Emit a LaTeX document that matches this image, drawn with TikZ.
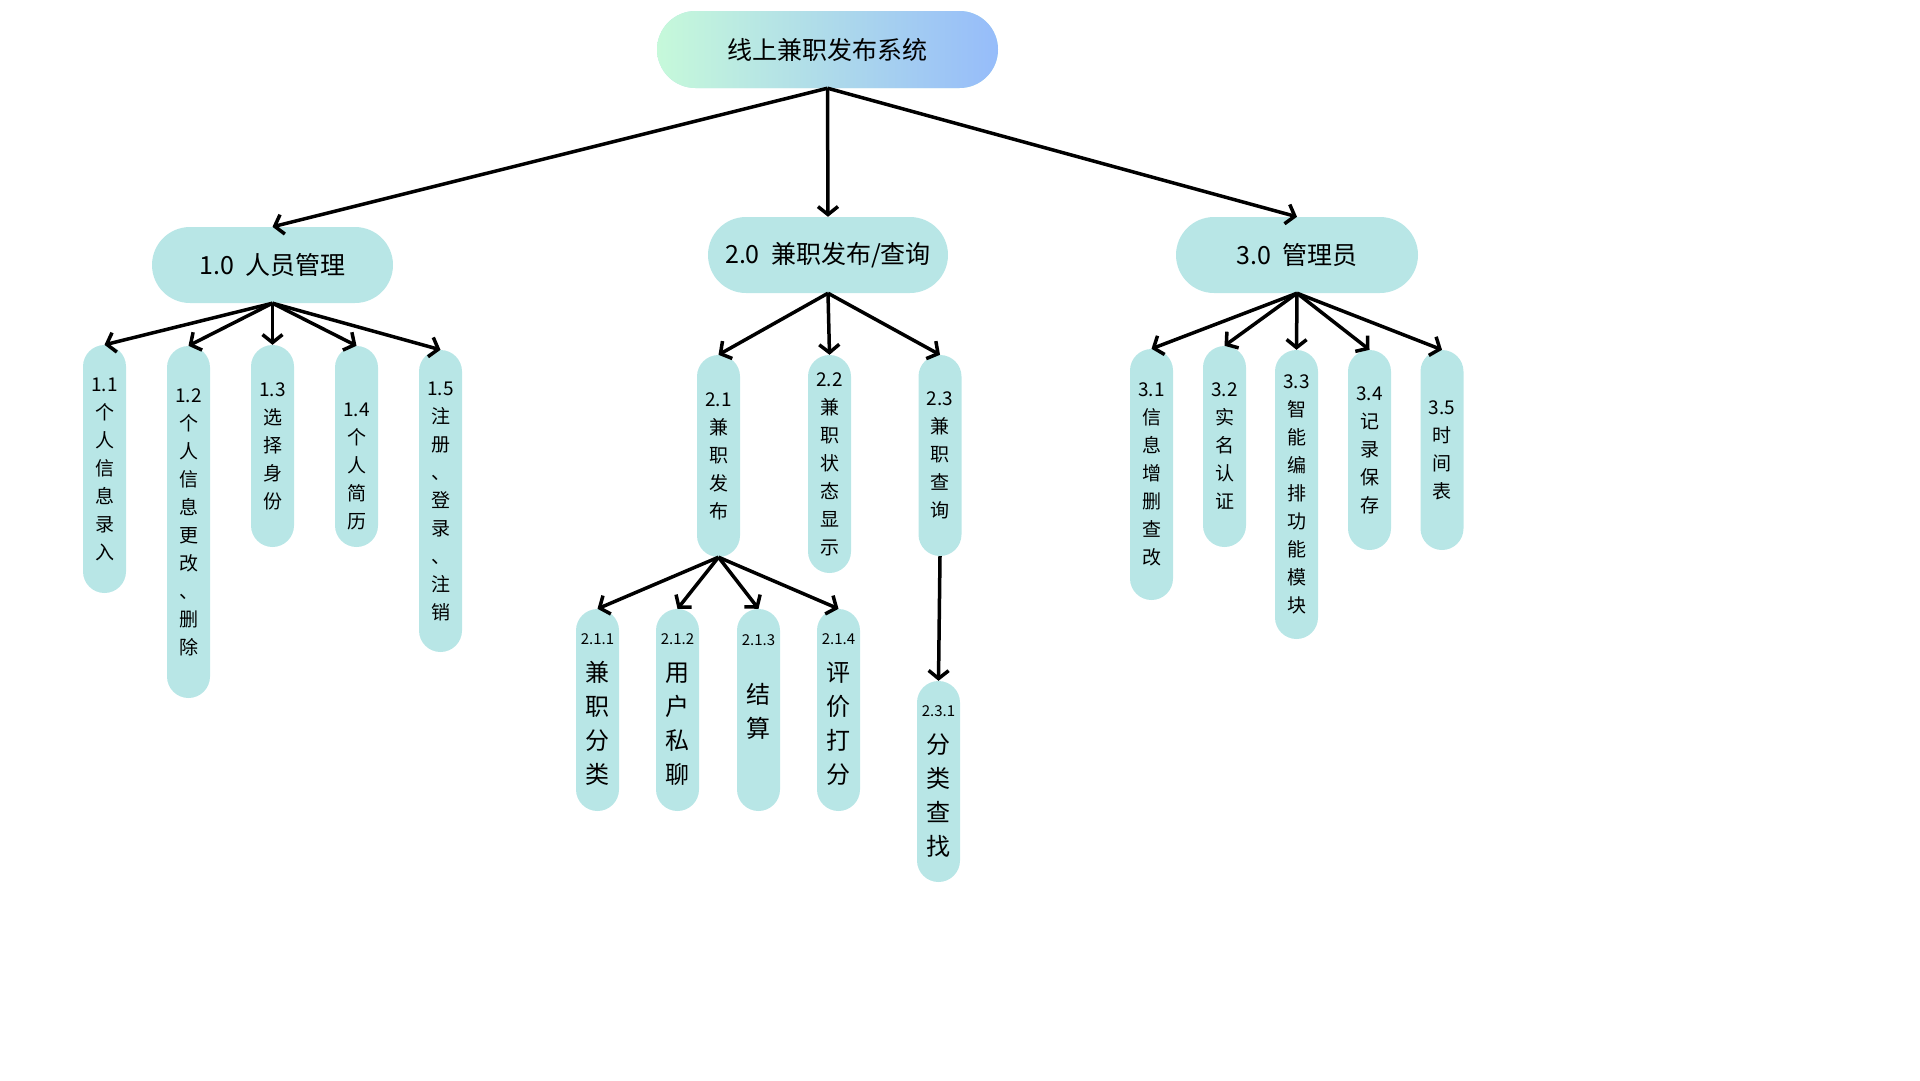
\documentclass[tikz,border=0pt]{standalone}
\usepackage{fontspec}
\setmainfont{Noto Sans CJK SC}
\usetikzlibrary{arrows.meta}
\definecolor{boxfill}{HTML}{B8E6E6}
\definecolor{mint}{HTML}{C6F9DA}
\definecolor{sky}{HTML}{96BCFA}
\newcommand{\subno}[1]{{\fontsize{15}{18}\selectfont #1}}
\begin{document}
\begin{tikzpicture}[x=1pt, y=-1pt,
    pill/.style={fill=boxfill, inner sep=0pt, align=center},
    hbox/.style={pill, minimum width=241pt, minimum height=76pt,
        rounded corners=38pt, font=\fontsize{25}{30}\selectfont},
    vbox/.style={pill, minimum width=43pt, rounded corners=21.5pt,
        font=\fontsize{19}{28}\selectfont},
    leaf/.style={vbox, minimum height=202pt, font=\fontsize{24}{34}\selectfont},
    link/.style={line width=3.5pt, -{Straight Barb[length=8pt,width=20pt]}},
]
\useasboundingbox (0,0) rectangle (1920,1080);

% top
\node[pill, left color=mint, right color=sky, minimum width=341pt,
    minimum height=77pt, rounded corners=38.5pt,
    font=\fontsize{25}{30}\selectfont] (root) at (827.5,49.5) {线上兼职发布系统};

% first level
\node[hbox] (pm) at (272.5,265) {1.0\ \ 人员管理};
\node[hbox, minimum width=240pt] (job) at (828,255) {2.0\ \ 兼职发布/查询};
\node[hbox, minimum width=242pt] (admin) at (1297,255) {3.0\ \ 管理员};

% 1.x
\node[vbox, minimum height=248pt] (pm1) at (104.5,469) {1.1\\个\\人\\信\\息\\录\\入};
\node[vbox, minimum height=352pt] (pm2) at (188.5,522) {1.2\\个\\人\\信\\息\\更\\改\\、\\删\\除};
\node[vbox, minimum height=202pt] (pm3) at (272.5,446) {1.3\\选\\择\\身\\份};
\node[vbox, minimum height=201pt] (pm4) at (356.5,446.5) {\mbox{}\\[26pt]1.4\\个\\人\\简\\历};
\node[vbox, minimum height=302pt] (pm5) at (440.5,501) {1.5\\注\\册\\、\\登\\录\\、\\注\\销};

% 2.x
\node[vbox, minimum height=202pt] (job1) at (718.5,456) {2.1\\兼\\职\\发\\布};
\node[vbox, minimum height=218pt] (job2) at (829.5,464) {2.2\\兼\\职\\状\\态\\显\\示};
\node[vbox, minimum height=201pt] (job3) at (940,455.5) {2.3\\兼\\职\\查\\询};

\node[leaf] (post1) at (597.5,710) {\subno{2.1.1}\\[3pt]兼\\职\\分\\类};
\node[leaf] (post2) at (677.5,710) {\subno{2.1.2}\\[3pt]用\\户\\私\\聊};
\node[leaf] (post3) at (758.5,710) {\subno{2.1.3}\\[24pt]结\\算\\[13pt]\mbox{}};
\node[leaf] (post4) at (838.5,710) {\subno{2.1.4}\\[3pt]评\\价\\打\\分};
\node[leaf, minimum height=201pt] (find1) at (938.5,781.5) {\subno{2.3.1}\\[3pt]分\\类\\查\\找};

% 3.x
\node[vbox, minimum height=251pt] (adm1) at (1151.5,474.5) {3.1\\信\\息\\增\\删\\查\\改};
\node[vbox, minimum height=201pt] (adm2) at (1224.5,446.5) {3.2\\实\\名\\认\\证};
\node[vbox, minimum height=289pt] (adm3) at (1296.5,494.5) {3.3\\智\\能\\编\\排\\功\\能\\模\\块};
\node[vbox, minimum height=200pt] (adm4) at (1369.5,450) {3.4\\记\\录\\保\\存};
\node[vbox, minimum height=200pt] (adm5) at (1442,450) {3.5\\时\\间\\表};

% links
\foreach \n in {pm, job, admin}
    \draw[link] (root.south) -- (\n.north);
\foreach \n in {pm1, pm2, pm3, pm4, pm5}
    \draw[link] (pm.south) -- (\n.north);
\foreach \n in {job1, job2, job3}
    \draw[link] (job.south) -- (\n.north);
\foreach \n in {post1, post2, post3, post4}
    \draw[link] (job1.south) -- (\n.north);
\draw[link] (job3.south) -- (find1.north);
\foreach \n in {adm1, adm2, adm3, adm4, adm5}
    \draw[link] (admin.south) -- (\n.north);
\end{tikzpicture}
\end{document}
